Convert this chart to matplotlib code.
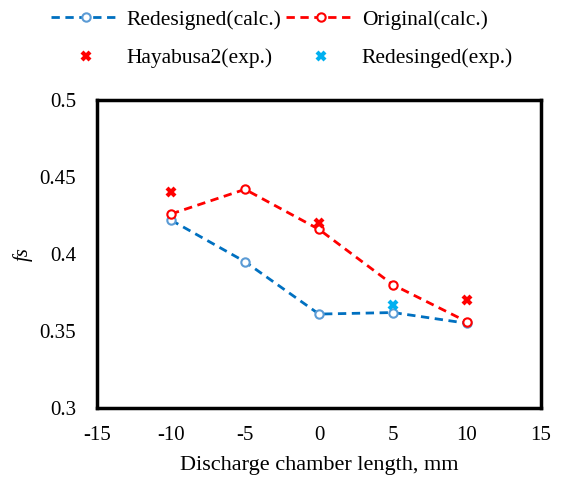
import numpy as np
import matplotlib.pyplot as plt

plt.rcParams['font.family'] = ['Liberation Serif', 'DejaVu Serif']
plt.rcParams['axes.unicode_minus'] = False

# data
length = [-10, -5, 0, 5, 10]
redesigned_calc = [0.422, 0.395, 0.361, 0.362, 0.355]
original_calc = [0.426, 0.442, 0.416, 0.380, 0.356]
hayabusa_x = [-10, 0, 10]
hayabusa_exp = [0.440, 0.420, 0.370]
redes_exp_x = [5]
redes_exp = [0.367]

fig = plt.figure(figsize=(5.63, 4.79), dpi=100)
ax = fig.add_axes([0.1723, 0.1482, 0.7887, 0.643])

l1, = ax.plot(length, redesigned_calc, color='#0070C0', linestyle='--', linewidth=2,
              marker='o', markersize=6, markerfacecolor='white', markeredgecolor='#5B9BD5',
              markeredgewidth=1.5, dashes=(3, 2), label='Redesigned(calc.)')
l2, = ax.plot(length, original_calc, color='#FF0000', linestyle='--', linewidth=2,
              marker='o', markersize=6, markerfacecolor='white', markeredgecolor='#FF0000',
              markeredgewidth=1.5, dashes=(3, 2), label='Original(calc.)')
s1, = ax.plot(hayabusa_x, hayabusa_exp, linestyle='none', marker='x', markersize=6,
              markeredgewidth=3, color='#FF0000', label='Hayabusa2(exp.)')
s2, = ax.plot(redes_exp_x, redes_exp, linestyle='none', marker='x', markersize=6,
              markeredgewidth=3, color='#00B0F0', label='Redesinged(exp.)')

ax.set_xlim(-15, 15)
ax.set_ylim(0.3, 0.5)
ax.set_xticks(np.arange(-15, 16, 5))
ax.set_yticks([0.3, 0.35, 0.4, 0.45, 0.5])
ax.set_yticklabels(['0.3', '0.35', '0.4', '0.45', '0.5'])
ax.tick_params(length=0, labelsize=15)
ax.tick_params(axis='y', pad=15)
ax.tick_params(axis='x', pad=13)
for sp in ax.spines.values():
    sp.set_linewidth(2.5)
    sp.set_color('black')

ax.set_xlabel('Discharge chamber length, mm', fontsize=16, labelpad=8)
ax.set_ylabel('fs', fontsize=15, fontstyle='italic')
ax.yaxis.set_label_coords(-0.144, 0.5)

# row-major order in the reference: calc lines on top, exp markers below
fig.legend(handles=[l1, s1, l2, s2], ncol=2, loc='upper left',
           bbox_to_anchor=(0.057, 1.02), frameon=False, fontsize=15.5,
           handlelength=3.2, labelspacing=0.85, columnspacing=0.22, handletextpad=0.3)

plt.savefig('out.png', dpi=100)
